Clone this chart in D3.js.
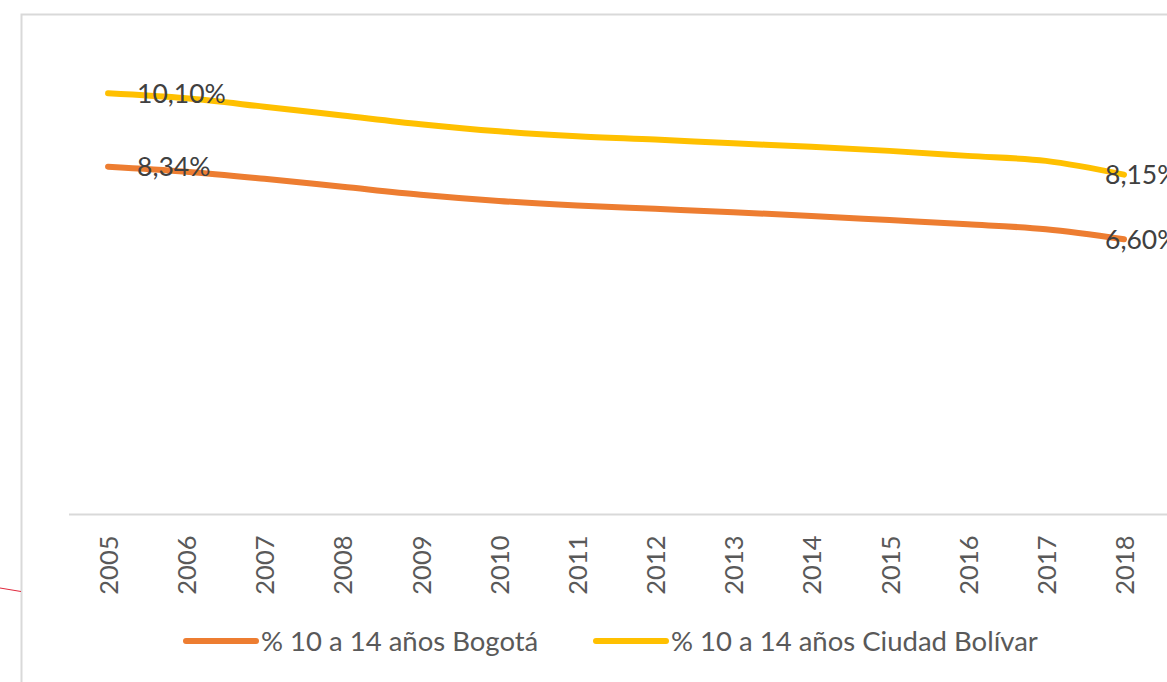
<!DOCTYPE html>
<html>
<head>
<meta charset="utf-8">
<script src="https://cdn.jsdelivr.net/npm/d3@7"></script>
<style>
  body { margin: 0; background: #fff; }
  svg { display: block; font-family: Lato, "Open Sans", sans-serif; }
</style>
</head>
<body>
<div id="chart"></div>
<script>
const width = 1167;
const height = 682;

// data
const years = ["2005", "2006", "2007", "2008", "2009", "2010", "2011",
  "2012", "2013", "2014", "2015", "2016", "2017", "2018"];
const bogota = [8.34, 8.22, 8.05, 7.86, 7.67, 7.52, 7.41, 7.33, 7.25, 7.16, 7.06, 6.96, 6.84, 6.60];
const ciudadBolivar = [10.10, 9.98, 9.78, 9.57, 9.36, 9.19, 9.07, 8.99, 8.90, 8.82, 8.72, 8.60, 8.48, 8.15];
const seriesNames = ["% 10 a 14 años Bogotá", "% 10 a 14 años Ciudad Bolívar"];
const colors = ["#ED7D31", "#FFC000"];

const series = [bogota, ciudadBolivar].map((vals, i) => ({
  name: seriesNames[i],
  color: colors[i],
  values: vals.map((v, j) => ({ year: years[j], value: v }))
}));

const svg = d3.select("#chart").append("svg")
  .attr("width", width)
  .attr("height", height);

// chart frame (cropped on right and bottom)
svg.append("rect")
  .attr("x", 21.5).attr("y", 14.5)
  .attr("width", 2000).attr("height", 2000)
  .attr("fill", "none")
  .attr("stroke", "#d9d9d9")
  .attr("stroke-width", 2);

// stray red stroke at left edge
svg.append("line")
  .attr("x1", 0).attr("y1", 588)
  .attr("x2", 21).attr("y2", 591.5)
  .attr("stroke", "#e0283c")
  .attr("stroke-width", 1);

//----------------------------SCALES----------------------------//
const x = d3.scaleBand()
  .domain(years)
  .range([69, 69 + 14 * 78.15]);
const xc = d => x(d) + x.bandwidth() / 2;

const y = d3.scaleLinear()
  .domain([0, 12])
  .range([514.5, 14.1]);

//-----------------------------AXES-----------------------------//
svg.append("line")
  .attr("x1", x.range()[0]).attr("x2", width)
  .attr("y1", y(0)).attr("y2", y(0))
  .attr("stroke", "#d9d9d9")
  .attr("stroke-width", 2);

const xaxis = svg.append("g")
  .attr("transform", "translate(0," + y(0) + ")")
  .call(d3.axisBottom(x).tickSize(0));
xaxis.select(".domain").remove();
xaxis.selectAll("text")
  .attr("transform", "translate(1,21) rotate(-90)")
  .attr("x", 0).attr("y", 0)
  .attr("dy", "0.35em")
  .style("text-anchor", "end")
  .style("font-family", "Lato, sans-serif")
  .style("font-size", "25.5px")
  .attr("fill", "#595959");

//----------------------------LINES-----------------------------//
const line = d3.line()
  .curve(d3.curveCatmullRom.alpha(0.5))
  .x(d => xc(d.year))
  .y(d => y(d.value));

svg.selectAll(".serie")
  .data(series)
  .join("path")
  .attr("class", "serie")
  .attr("d", d => line(d.values))
  .attr("fill", "none")
  .attr("stroke", d => d.color)
  .attr("stroke-width", 6)
  .attr("stroke-linecap", "round")
  .attr("stroke-linejoin", "round");

// data labels on first and last point
const fmt = v => v.toFixed(2).replace(".", ",") + "%";
series.forEach(s => {
  const first = s.values[0];
  const last = s.values[s.values.length - 1];
  [[first, 29], [last, -19]].forEach(([p, dx]) => {
    svg.append("text")
      .attr("x", xc(p.year) + dx)
      .attr("y", y(p.value))
      .attr("dy", "0.36em")
      .attr("fill", "#404040")
      .style("font-size", "26.5px")
      .text(fmt(p.value));
  });
});

//----------------------------LEGEND----------------------------//
const legendY = 641;
const legendX = [186, 596];
const legend = svg.selectAll(".legend")
  .data(series)
  .join("g")
  .attr("class", "legend")
  .attr("transform", (d, i) => "translate(" + legendX[i] + "," + legendY + ")");
legend.append("line")
  .attr("x1", 0).attr("x2", 70)
  .attr("stroke", d => d.color)
  .attr("stroke-width", 6)
  .attr("stroke-linecap", "round");
legend.append("text")
  .attr("x", 75)
  .attr("dy", "0.36em")
  .attr("fill", "#595959")
  .style("font-size", "27.5px")
  .text(d => d.name);
</script>
</body>
</html>
